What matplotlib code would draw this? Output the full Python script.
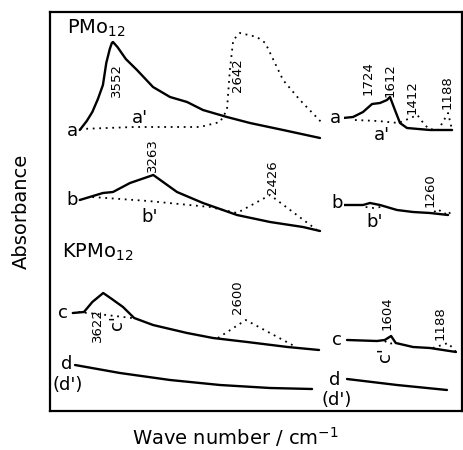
import matplotlib
matplotlib.use("Agg")
import matplotlib.pyplot as plt

# spectra: (wavenumber / cm-1, absorbance, arbitrary offset units)
# --- PMo12, high wavenumber region
a_hi_wn = [3790, 3740, 3700, 3660, 3624, 3600, 3575, 3560, 3552, 3520, 3460, 3380, 3265, 3143, 3021, 2907, 2735, 2570, 2333, 2068]
a_hi_abs = [2.81, 2.90, 2.99, 3.12, 3.26, 3.48, 3.62, 3.68, 3.69, 3.64, 3.52, 3.41, 3.24, 3.14, 3.09, 3.01, 2.94, 2.88, 2.81, 2.73]
a2_hi_wn = [3790, 3400, 2928, 2785, 2735, 2714, 2690, 2642, 2520, 2460, 2333, 2212, 2053]
a2_hi_abs = [2.82, 2.84, 2.84, 2.89, 3.01, 3.41, 3.71, 3.78, 3.74, 3.68, 3.31, 3.11, 2.88]
b_hi_wn = [3790, 3624, 3552, 3430, 3263, 3093, 2907, 2663, 2426, 2190, 2068]
b_hi_abs = [2.11, 2.18, 2.19, 2.28, 2.36, 2.19, 2.08, 1.96, 1.89, 1.84, 1.80]
b2_hi_wn = [3700, 3300, 2857, 2663, 2426, 2090]
b2_hi_abs = [2.14, 2.10, 2.04, 1.98, 2.16, 1.81]
# --- KPMo12
c_hi_wn = [3840, 3760, 3700, 3622, 3560, 3480, 3400, 3265, 3021, 2835, 2590, 2300, 2075]
c_hi_abs = [0.98, 0.99, 1.09, 1.18, 1.12, 1.04, 0.93, 0.86, 0.78, 0.73, 0.69, 0.64, 0.61]
c2_hi_wn = [3800, 3600, 3416]
c2_hi_abs = [0.99, 0.96, 0.93]
c3_hi_wn = [2800, 2600, 2240]
c3_hi_abs = [0.73, 0.91, 0.64]
d_hi_wn = [3824, 3502, 3143, 2785, 2426, 2125]
d_hi_abs = [0.46, 0.38, 0.31, 0.26, 0.23, 0.22]

# --- low wavenumber region
a_lo_wn = [1955, 1882, 1809, 1743, 1685, 1634, 1612, 1576, 1539, 1488, 1320, 1159]
a_lo_abs = [2.93, 2.94, 2.99, 3.07, 3.08, 3.11, 3.14, 3.01, 2.88, 2.83, 2.81, 2.81]
a2_lo_wn = [1868, 1700, 1550, 1480, 1412, 1380, 1330, 1260, 1188, 1159]
a2_lo_abs = [2.91, 2.90, 2.88, 2.92, 2.96, 2.90, 2.82, 2.81, 2.98, 2.81]
b_lo_wn = [1955, 1809, 1758, 1685, 1561, 1444, 1320, 1188]
b_lo_abs = [2.06, 2.06, 2.08, 2.06, 2.01, 1.99, 1.98, 1.96]
b2_lo_wn = [1790, 1730, 1680]
b2_lo_abs = [2.04, 2.03, 2.04]
b3_lo_wn = [1290, 1260, 1230, 1215, 1188, 1165]
b3_lo_abs = [1.99, 2.02, 1.98, 1.97, 2.00, 1.96]
c_lo_wn = [1926, 1707, 1650, 1604, 1570, 1444, 1320, 1130]
c_lo_abs = [0.71, 0.70, 0.71, 0.75, 0.68, 0.64, 0.63, 0.59]
c2_lo_wn = [1650, 1620, 1590]
c2_lo_abs = [0.70, 0.67, 0.68]
c3_lo_wn = [1300, 1188, 1130]
c3_lo_abs = [0.63, 0.68, 0.59]
d_lo_wn = [1926, 1561, 1196]
d_lo_abs = [0.32, 0.26, 0.21]

W, H = 463, 450
fig = plt.figure(figsize=(W / 100, H / 100), dpi=100)

def px_axes(x0, x1, y0, y1):
    return fig.add_axes([x0 / W, 1 - y1 / H, (x1 - x0) / W, (y1 - y0) / H])

# outer frame, no ticks
frame = px_axes(50, 462, 12, 411)
frame.set_xticks([])
frame.set_yticks([])
for s in frame.spines.values():
    s.set_linewidth(1.6)
frame.set_ylabel("Absorbance", fontsize=14, labelpad=14)
fig.text(235 / W, 1 - 437 / H, "Wave number / cm$^{-1}$", fontsize=14, ha="center", va="center")

hi = px_axes(71.4, 329.5, 12, 411)
hi.set_xlim(3850, 2000)
lo = px_axes(343.7, 457.4, 12, 411)
lo.set_xlim(1950, 1120)
for ax in (hi, lo):
    ax.set_ylim(0, 3.99)
    ax.axis("off")

solid = dict(color="black", lw=1.7, solid_capstyle="round", solid_joinstyle="round")
dots = dict(color="black", lw=1.3, linestyle=(0, (1, 2.6)))

hi.plot(a_hi_wn, a_hi_abs, **solid)
hi.plot(a2_hi_wn, a2_hi_abs, **dots)
hi.plot(b_hi_wn, b_hi_abs, **solid)
hi.plot(b2_hi_wn, b2_hi_abs, **dots)
hi.plot(c_hi_wn, c_hi_abs, **solid)
hi.plot(c2_hi_wn, c2_hi_abs, **dots)
hi.plot(c3_hi_wn, c3_hi_abs, **dots)
hi.plot(d_hi_wn, d_hi_abs, **solid)

lo.plot(a_lo_wn, a_lo_abs, **solid)
lo.plot(a2_lo_wn, a2_lo_abs, **dots)
lo.plot(b_lo_wn, b_lo_abs, **solid)
lo.plot(b2_lo_wn, b2_lo_abs, **dots)
lo.plot(b3_lo_wn, b3_lo_abs, **dots)
lo.plot(c_lo_wn, c_lo_abs, **solid)
lo.plot(c2_lo_wn, c2_lo_abs, **dots)
lo.plot(c3_lo_wn, c3_lo_abs, **dots)
lo.plot(d_lo_wn, d_lo_abs, **solid)

def lab(ax, x, y, s, size=13, rot=0):
    ax.text(x, y, s, fontsize=size, rotation=rot, ha="center", va="center", clip_on=False)

# trace letters
lab(hi, 3839, 2.80, "a")
lab(hi, 3358, 2.93, "a'")
lab(hi, 3846, 2.11, "b")
lab(hi, 3287, 1.94, "b'")
lab(hi, 3911, 0.98, "c")
lab(hi, 3523, 0.88, "c'", rot=90)
lab(hi, 3882, 0.47, "d")
lab(hi, 3875, 0.26, "(d')")
lab(lo, 2013, 2.93, "a")
lab(lo, 1670, 2.76, "a'")
lab(lo, 1999, 2.08, "b")
lab(lo, 1722, 1.89, "b'")
lab(lo, 1999, 0.71, "c")
lab(lo, 1649, 0.56, "c'", rot=90)
lab(lo, 2013, 0.31, "d")
lab(lo, 1999, 0.11, "(d')")

# peak positions
for ax, x, y, s in [(hi, 3530, 3.31, "3552"), (hi, 2656, 3.36, "2642"),
                    (hi, 3272, 2.56, "3263"), (hi, 2412, 2.34, "2426"),
                    (hi, 3660, 0.86, "3622"), (hi, 2656, 1.14, "2600"),
                    (lo, 1773, 3.33, "1724"), (lo, 1612, 3.31, "1612"),
                    (lo, 1451, 3.14, "1412"), (lo, 1196, 3.19, "1188"),
                    (lo, 1320, 2.21, "1260"), (lo, 1634, 0.98, "1604"),
                    (lo, 1247, 0.88, "1188")]:
    lab(ax, x, y, s, size=9.5, rot=90)

hi.text(3885, 3.83, "PMo$_{12}$", fontsize=14, ha="left", va="center")
hi.text(3920, 1.59, "KPMo$_{12}$", fontsize=14, ha="left", va="center")

fig.savefig("out.png", dpi=100)
